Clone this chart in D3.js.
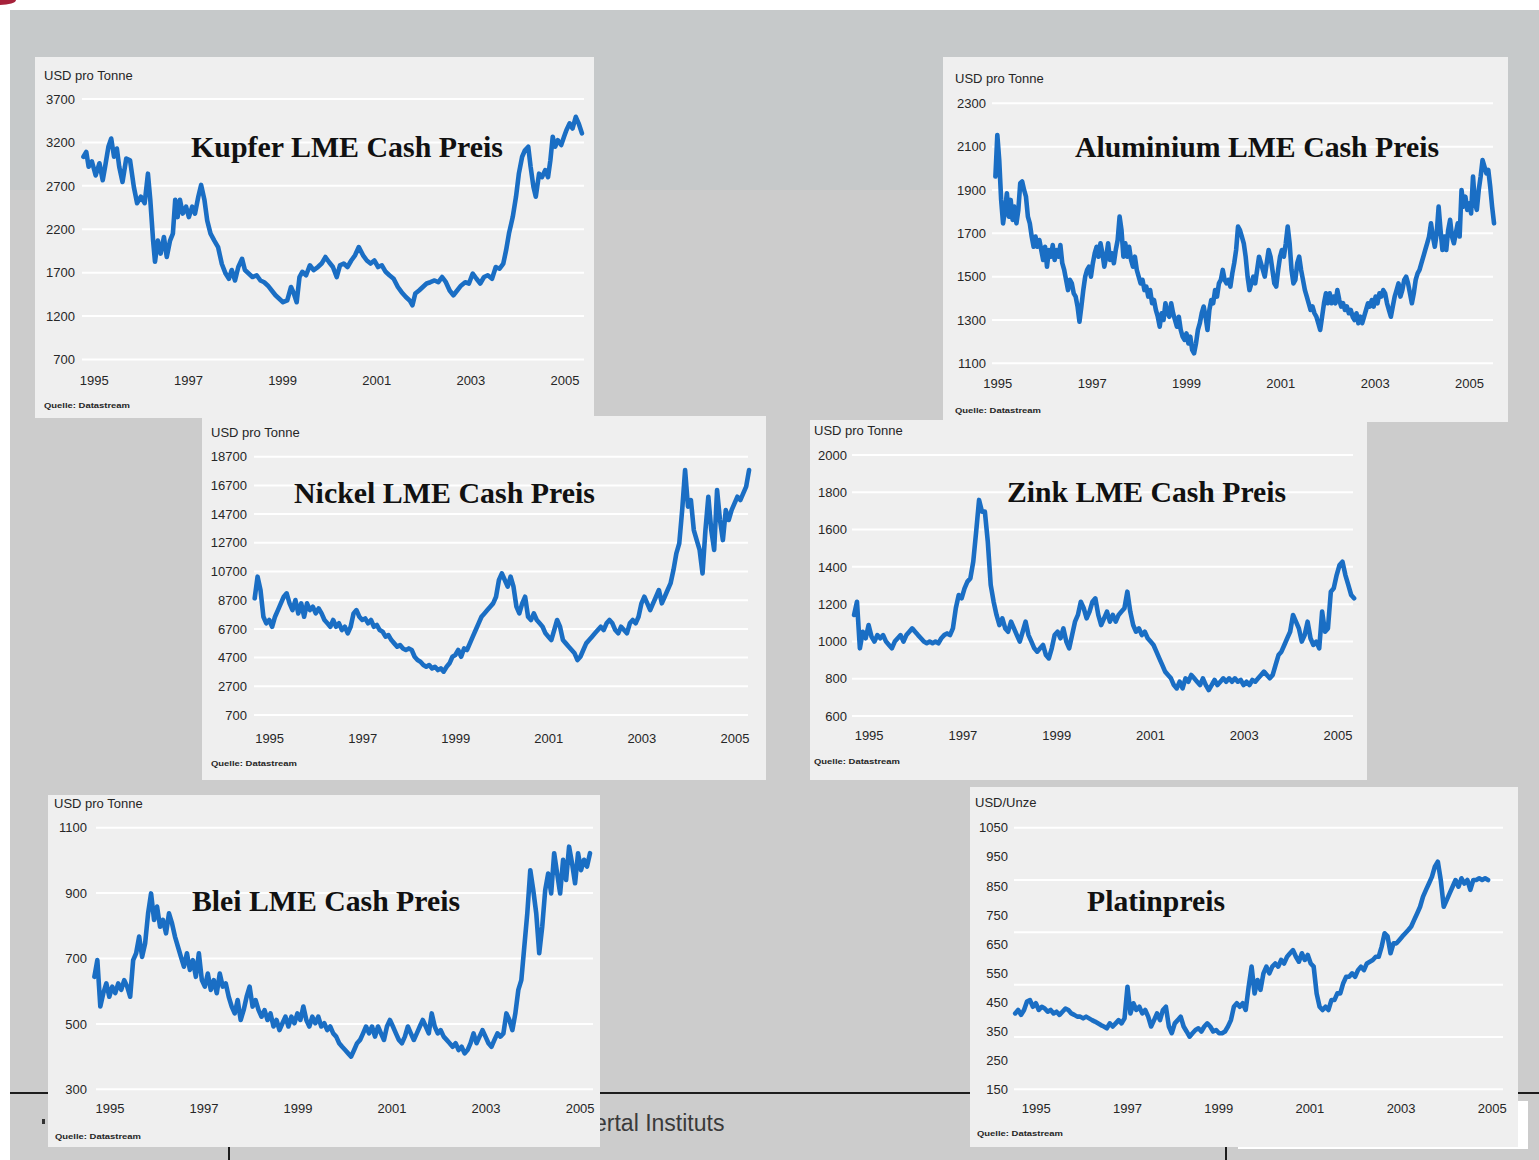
<!DOCTYPE html>
<html><head><meta charset="utf-8">
<script src="https://cdn.jsdelivr.net/npm/d3@7"></script>
<style>body{margin:0;background:#fff}svg{display:block}</style>
</head><body>
<svg id="c" width="1539" height="1160"></svg>
<script>
// ---------------- DATA ----------------
const yearTicks = [1995, 1997, 1999, 2001, 2003, 2005];

const kupferTicks = [3700, 3200, 2700, 2200, 1700, 1200, 700];
const aluminiumTicks = [2300, 2100, 1900, 1700, 1500, 1300, 1100];
const nickelTicks = [18700, 16700, 14700, 12700, 10700, 8700, 6700, 4700, 2700, 700];
const zinkTicks = [2000, 1800, 1600, 1400, 1200, 1000, 800, 600];
const bleiTicks = [1100, 900, 700, 500, 300];
const platinTicks = [1050, 950, 850, 750, 650, 550, 450, 350, 250, 150];
const platinGrid = [1050, 870, 690, 510, 330, 150];

// Kupfer: [year, USD/t]
const kupferSeries = [[1994.78,3035],[1994.84,3090],[1994.89,2920],[1994.96,2980],[1995.04,2820],[1995.12,2960],[1995.19,2765],[1995.24,2920],[1995.31,3150],[1995.37,3245],[1995.43,3035],[1995.49,3130],[1995.54,2920],[1995.61,2745],[1995.69,3015],[1995.77,2995],[1995.85,2690],[1995.92,2500],[1996.00,2575],[1996.08,2500],[1996.15,2840],[1996.20,2540],[1996.26,2070],[1996.30,1825],[1996.36,2070],[1996.42,1920],[1996.49,2110],[1996.55,1880],[1996.62,2070],[1996.68,2150],[1996.73,2540],[1996.78,2340],[1996.83,2540],[1996.89,2380],[1996.96,2460],[1997.02,2340],[1997.09,2460],[1997.15,2380],[1997.22,2575],[1997.28,2710],[1997.35,2540],[1997.41,2300],[1997.48,2150],[1997.56,2070],[1997.64,1995],[1997.72,1800],[1997.80,1690],[1997.87,1630],[1997.93,1730],[1998.00,1610],[1998.07,1765],[1998.15,1860],[1998.21,1730],[1998.29,1690],[1998.37,1650],[1998.46,1670],[1998.54,1610],[1998.62,1590],[1998.70,1550],[1998.78,1495],[1998.86,1440],[1998.94,1400],[1999.02,1360],[1999.11,1380],[1999.19,1535],[1999.25,1460],[1999.31,1360],[1999.37,1650],[1999.43,1710],[1999.51,1670],[1999.59,1785],[1999.67,1730],[1999.76,1765],[1999.84,1805],[1999.92,1880],[2000.00,1820],[2000.08,1765],[2000.16,1650],[2000.23,1785],[2000.31,1805],[2000.39,1765],[2000.47,1840],[2000.55,1900],[2000.63,1995],[2000.72,1900],[2000.80,1840],[2000.88,1805],[2000.96,1840],[2001.04,1765],[2001.12,1785],[2001.20,1710],[2001.28,1670],[2001.37,1630],[2001.46,1535],[2001.54,1475],[2001.63,1420],[2001.71,1380],[2001.77,1325],[2001.83,1460],[2001.91,1495],[2001.99,1535],[2002.07,1575],[2002.15,1590],[2002.24,1610],[2002.32,1590],[2002.40,1650],[2002.48,1590],[2002.56,1495],[2002.64,1440],[2002.72,1495],[2002.80,1550],[2002.89,1590],[2002.97,1575],[2003.05,1690],[2003.13,1630],[2003.21,1575],[2003.29,1650],[2003.37,1670],[2003.46,1630],[2003.54,1765],[2003.62,1745],[2003.70,1805],[2003.76,1960],[2003.82,2150],[2003.90,2340],[2003.97,2575],[2004.03,2840],[2004.10,3035],[2004.16,3110],[2004.23,3150],[2004.28,2920],[2004.34,2690],[2004.39,2575],[2004.46,2840],[2004.52,2800],[2004.59,2880],[2004.65,2800],[2004.70,2995],[2004.75,3265],[2004.80,3150],[2004.86,3225],[2004.93,3170],[2004.99,3265],[2005.04,3340],[2005.11,3420],[2005.17,3360],[2005.24,3495],[2005.30,3420],[2005.37,3305]];

// Regularly spaced series: first date (year), spacing (years), values
const aluminiumStart = 1994.96, aluminiumStep = 0.0405;
const aluminiumValues = [1962,2154,2038,1854,1746,1808,1885,1777,1854,1762,1823,1746,1808,1931,1939,1900,1869,1777,1746,1685,1638,1685,1638,1669,1623,1577,1638,1546,1623,1592,1646,1577,1623,1592,1646,1562,1531,1485,1438,1485,1469,1423,1408,1362,1292,1362,1438,1500,1531,1546,1500,1562,1608,1638,1592,1654,1608,1546,1592,1654,1577,1608,1562,1623,1669,1777,1715,1592,1654,1592,1638,1577,1546,1592,1531,1500,1469,1485,1438,1454,1408,1438,1377,1392,1346,1315,1269,1331,1300,1377,1331,1315,1377,1331,1300,1269,1315,1254,1223,1208,1238,1192,1223,1162,1146,1192,1254,1285,1331,1362,1315,1254,1346,1392,1377,1438,1408,1469,1485,1531,1485,1469,1485,1454,1515,1562,1623,1731,1715,1685,1654,1592,1500,1438,1469,1500,1469,1531,1592,1562,1531,1500,1562,1623,1592,1531,1469,1454,1531,1592,1623,1592,1654,1731,1654,1531,1469,1485,1562,1592,1531,1485,1438,1408,1377,1346,1362,1331,1315,1285,1254,1315,1377,1423,1377,1423,1377,1408,1377,1438,1392,1362,1377,1346,1362,1331,1346,1315,1300,1331,1285,1315,1285,1315,1346,1377,1362,1392,1362,1408,1377,1423,1408,1438,1423,1377,1346,1315,1362,1408,1438,1469,1408,1438,1485,1500,1469,1423,1377,1423,1485,1515,1531,1562,1592,1623,1654,1685,1746,1685,1638,1700,1823,1715,1623,1685,1623,1715,1762,1685,1654,1700,1746,1685,1900,1823,1869,1808,1838,1792,1962,1838,1808,1900,1962,2038,2008,1977,1992,1916,1823,1746];

const nickelStart = 1994.69, nickelStep = 0.0625;
const nickelValues = [8830,10340,9410,7550,7090,7320,6850,7550,8010,8480,8940,9180,8480,8010,8710,7780,8480,7550,8480,8010,8250,7780,8130,7780,7320,7090,6850,7320,6850,7090,6620,6850,6390,6850,7780,8010,7550,7320,7430,7090,7320,6850,6970,6620,6500,6160,6270,5920,5690,5460,5570,5340,5230,5340,5230,4760,4530,4410,4180,4060,4180,3950,4060,3830,3950,3720,4060,4300,4760,4880,5230,4760,5340,5230,5690,6160,6620,7090,7550,7780,8010,8250,8480,8940,10110,10570,10110,9640,10340,9640,8250,7780,8480,8940,7550,7320,7780,7320,7090,6850,6390,6160,5920,6620,7320,6850,5920,5690,5460,5230,5000,4530,4760,5230,5690,5920,6160,6390,6620,6850,6620,7090,7320,7090,6620,6390,6850,6620,6390,7090,7320,7090,7550,8480,8940,8480,8010,8480,8940,9410,8480,8940,9410,9870,10800,11960,12660,14980,17770,15220,15680,13590,12890,12200,10570,13590,15910,13590,12200,16380,14290,12890,14980,14290,14980,15450,15910,15680,16150,16610,17770];

const zinkStart = 1994.69, zinkStep = 0.062;
const zinkValues = [1142,1213,963,1052,1017,1088,1026,999,1034,1017,1034,999,981,963,999,1017,1034,999,1034,1052,1070,1052,1034,1017,999,990,999,990,999,990,1017,1034,1043,1034,1070,1178,1249,1231,1285,1321,1338,1428,1589,1759,1696,1696,1535,1303,1213,1142,1088,1124,1070,1052,1106,1070,1034,999,1052,1106,1034,999,963,945,963,981,927,909,963,1034,1052,1017,1070,999,963,1034,1106,1142,1213,1178,1124,1160,1213,1231,1142,1088,1124,1160,1106,1142,1106,1142,1160,1178,1267,1160,1088,1052,1070,1034,1052,1017,999,981,945,909,874,838,820,802,766,748,784,748,802,784,820,802,784,766,802,766,739,766,793,766,784,802,784,802,784,802,784,793,766,784,766,793,784,802,820,838,820,802,820,874,927,945,981,1017,1052,1142,1106,1070,999,1034,1106,1017,981,999,963,1160,1052,1070,1267,1285,1356,1410,1428,1356,1303,1249,1231];

const bleiStart = 1994.68, bleiStep = 0.0635;
const bleiValues = [644,695,553,594,624,583,614,594,624,604,634,614,583,695,716,767,705,746,838,899,818,859,797,818,777,838,808,767,736,705,675,716,665,695,644,716,634,614,654,604,634,594,654,614,624,583,553,532,573,512,542,583,614,553,573,542,522,542,512,532,492,512,481,502,522,492,522,502,532,512,553,512,492,522,502,522,492,502,481,492,471,461,441,430,420,410,400,420,441,451,471,492,471,492,461,492,471,451,492,512,492,471,451,441,461,492,471,451,471,492,512,492,471,532,492,471,481,461,451,441,430,441,420,430,410,420,441,471,441,461,481,461,441,430,451,471,461,471,532,512,481,532,604,634,736,838,970,909,838,716,797,909,960,899,1022,960,899,1002,940,1042,991,930,1022,970,1002,981,1022];

const platinStart = 1994.55, platinStep = 0.0648;
const platinValues = [411,423,406,423,452,457,434,446,423,434,428,417,423,411,417,406,417,428,423,411,406,400,400,394,400,394,388,383,377,371,366,360,377,366,377,388,377,394,503,411,446,423,434,411,423,400,366,388,411,388,423,434,366,343,377,388,400,366,349,331,343,354,360,349,366,377,366,349,354,343,343,349,366,388,434,446,434,446,423,503,572,480,526,492,549,572,549,572,583,572,595,583,606,618,629,606,589,618,595,612,583,572,480,434,423,434,423,457,457,480,480,515,537,537,549,537,560,572,560,583,589,595,606,606,641,687,676,618,652,652,664,676,687,698,710,733,755,778,813,836,858,881,916,933,870,778,801,824,847,870,847,876,858,870,836,870,870,876,870,876,870];

const regular = (start, step, vals) => vals.map((v, i) => [start + i * step, v]);

// ---------------- LAYOUT ----------------
const charts = [
  { title: "Kupfer LME Cash Preis", unit: "USD pro Tonne", data: kupferSeries, ticks: kupferTicks, grid: kupferTicks,
    panel: [35, 57, 594, 418], xr: [93.8, 564.5], yr: [99, 359.5], gridX: [82, 584], pad: 7, xLabelY: 380,
    unitPos: [44, 75], quellePos: [44, 405], titleBox: [191, 503, 157] },
  { title: "Aluminium LME Cash Preis", unit: "USD pro Tonne", data: regular(aluminiumStart, aluminiumStep, aluminiumValues), ticks: aluminiumTicks, grid: aluminiumTicks,
    panel: [943, 57, 1508, 422], xr: [997.3, 1469], yr: [103.3, 363.3], gridX: [992, 1493], pad: 6, xLabelY: 383,
    unitPos: [955, 78], quellePos: [955, 410], titleBox: [1075, 1439, 157] },
  { title: "Nickel LME Cash Preis", unit: "USD pro Tonne", data: regular(nickelStart, nickelStep, nickelValues), ticks: nickelTicks, grid: nickelTicks,
    panel: [202, 416, 766, 780], xr: [269.1, 734.4], yr: [456.7, 715], gridX: [254, 748], pad: 7, xLabelY: 738,
    unitPos: [211, 432], quellePos: [211, 763], titleBox: [294, 595, 503] },
  { title: "Zink LME Cash Preis", unit: "USD pro Tonne", data: regular(zinkStart, zinkStep, zinkValues), ticks: zinkTicks, grid: zinkTicks,
    panel: [810, 420, 1367, 780], xr: [868.6, 1337.5], yr: [455, 716], gridX: [852, 1353], pad: 5, xLabelY: 735,
    unitPos: [814, 430], quellePos: [814, 761], titleBox: [1007, 1286, 502] },
  { title: "Blei LME Cash Preis", unit: "USD pro Tonne", data: regular(bleiStart, bleiStep, bleiValues), ticks: bleiTicks, grid: bleiTicks,
    panel: [48, 795, 600, 1147], xr: [109.4, 579.6], yr: [827.7, 1089.3], gridX: [96, 593], pad: 9, xLabelY: 1108,
    unitPos: [54, 803], quellePos: [55, 1136], titleBox: [192, 460, 911] },
  { title: "Platinpreis", unit: "USD/Unze", data: regular(platinStart, platinStep, platinValues), ticks: platinTicks, grid: platinGrid,
    panel: [970, 787, 1518, 1147], xr: [1035.7, 1491.8], yr: [827.7, 1089.3], gridX: [1014, 1503], pad: 6, xLabelY: 1108,
    unitPos: [975, 802], quellePos: [977, 1133], titleBox: [1087, 1225, 911] }
];

// ---------------- DRAW ----------------
const svg = d3.select("#c");
const SANS = "'Liberation Sans', Arial, sans-serif";
const SERIF = "'Liberation Serif', 'Times New Roman', serif";
const TXT = "#262626";

// slide background
svg.append("rect").attr("x", 10).attr("y", 10).attr("width", 1529).attr("height", 180).attr("fill", "#c6c9ca");
svg.append("rect").attr("x", 10).attr("y", 190).attr("width", 1529).attr("height", 970).attr("fill", "#cccccc");
svg.append("ellipse").attr("cx", 0).attr("cy", 0).attr("rx", 16).attr("ry", 5).attr("fill", "#a6213a");
svg.append("line").attr("x1", 10).attr("x2", 1539).attr("y1", 1093).attr("y2", 1093).attr("stroke", "#1c1c1c").attr("stroke-width", 2);
svg.append("line").attr("x1", 229).attr("x2", 229).attr("y1", 1145).attr("y2", 1160).attr("stroke", "#1c1c1c").attr("stroke-width", 2);
svg.append("line").attr("x1", 1226).attr("x2", 1226).attr("y1", 1145).attr("y2", 1160).attr("stroke", "#1c1c1c").attr("stroke-width", 2);
svg.append("rect").attr("x", 1238).attr("y", 1101).attr("width", 290).attr("height", 48).attr("fill", "#ffffff");
svg.append("rect").attr("x", 42).attr("y", 1119).attr("width", 3).attr("height", 5).attr("fill", "#333");
svg.append("text").attr("x", 594).attr("y", 1131).attr("font-family", SANS).attr("font-size", 23)
  .attr("fill", "#3a3a3a").text("ertal Instituts");

charts.forEach(c => {
  const g = svg.append("g");
  const [px1, py1, px2, py2] = c.panel;
  g.append("rect").attr("x", px1).attr("y", py1).attr("width", px2 - px1).attr("height", py2 - py1).attr("fill", "#efefef");

  const x = d3.scaleLinear().domain([1995, 2005]).range(c.xr);
  const y = d3.scaleLinear().domain([c.ticks[0], c.ticks[c.ticks.length - 1]]).range(c.yr);

  // gridlines
  g.selectAll("line.grid").data(c.grid).join("line").attr("class", "grid")
    .attr("x1", c.gridX[0]).attr("x2", c.gridX[1])
    .attr("y1", d => y(d)).attr("y2", d => y(d))
    .attr("stroke", "#ffffff").attr("stroke-width", 2);

  // y axis
  const ya = g.append("g").attr("transform", `translate(${c.gridX[0]},0)`)
    .call(d3.axisLeft(y).tickValues(c.ticks).tickSize(0).tickPadding(c.pad).tickFormat(d3.format("d")));
  ya.select(".domain").remove();
  ya.selectAll("text").attr("font-family", SANS).attr("font-size", 13).attr("fill", TXT);

  // x axis
  const xa = g.append("g").attr("transform", `translate(0,${c.xLabelY})`)
    .call(d3.axisBottom(x).tickValues(yearTicks).tickSize(0).tickFormat(d => String(d)));
  xa.select(".domain").remove();
  xa.selectAll("text").attr("y", 0).attr("dy", "0.35em").attr("font-family", SANS).attr("font-size", 13).attr("fill", TXT);

  // line
  const line = d3.line().x(d => x(d[0])).y(d => y(d[1]));
  g.append("path").datum(c.data).attr("d", line).attr("fill", "none")
    .attr("stroke", "#1a6ec4").attr("stroke-width", 4.6).attr("stroke-linejoin", "round").attr("stroke-linecap", "round");

  // unit label
  g.append("text").attr("x", c.unitPos[0]).attr("y", c.unitPos[1]).attr("dy", "0.35em")
    .attr("font-family", SANS).attr("font-size", 13).attr("fill", TXT).text(c.unit);
  // source
  g.append("text").attr("x", c.quellePos[0]).attr("y", c.quellePos[1]).attr("dy", "0.35em")
    .attr("font-family", SANS).attr("font-size", 8).attr("font-weight", "bold").attr("fill", TXT)
    .attr("textLength", 86).attr("lengthAdjust", "spacingAndGlyphs").text("Quelle: Datastream");
  // title
  const [tx1, tx2, tb] = c.titleBox;
  g.append("text").attr("x", tx1).attr("y", tb).attr("font-family", SERIF).attr("font-size", 29)
    .attr("font-weight", "bold").attr("fill", "#111")
    .attr("textLength", tx2 - tx1).attr("lengthAdjust", "spacingAndGlyphs").text(c.title);
});
</script>
</body></html>
